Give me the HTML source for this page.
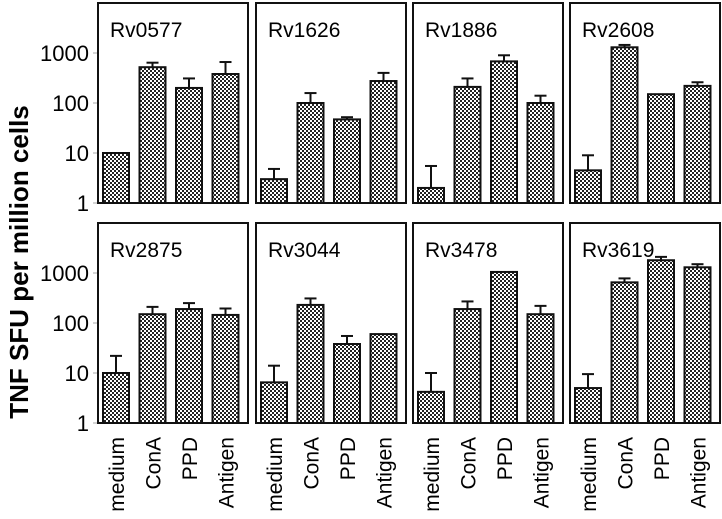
<!DOCTYPE html>
<html><head><meta charset="utf-8"><style>
body{margin:0;background:#fff}
svg{display:block;font-family:"Liberation Sans",Arial,sans-serif}
</style></head><body>
<svg id="chart" width="722" height="519" viewBox="0 0 722 519">
<defs>
<pattern id="chk" width="4" height="4" patternUnits="userSpaceOnUse">
<rect width="4" height="4" fill="#fff"/>
<rect width="2" height="2" fill="#222"/><rect x="2" y="2" width="2" height="2" fill="#222"/>
</pattern>
</defs>
<text transform="translate(28,262) rotate(-90)" text-anchor="middle" font-size="26" font-weight="bold">TNF SFU per million cells</text>
</svg>
<script>
const categories = ["medium","ConA","PPD","Antigen"];
const panels = ["Rv0577","Rv1626","Rv1886","Rv2608","Rv2875","Rv3044","Rv3478","Rv3619"];
const means = [
 [10,520,200,380],[3,100,47,275],[2,210,680,100],[4.5,1300,150,220],
 [10,150,190,145],[6.5,230,38,60],[4.2,190,1050,150],[5,650,1800,1300]];
const errTops = [
 [10,640,310,660],[4.8,158,52,400],[5.5,310,900,140],[9,1450,152,260],
 [22,210,250,195],[14,310,55,60],[10,270,1080,220],[9.5,780,2100,1500]];
const yTicks = [1,10,100,1000];
const yTickLabels = ["1","10","100","1000"];

const NS="http://www.w3.org/2000/svg";
const svg=document.getElementById('chart');
function mk(t,a){const e=document.createElementNS(NS,t);for(const k in a)e.setAttribute(k,a[k]);svg.appendChild(e);return e;}
const colX=[98,256,413,570], rowB=[203,423], W=150, H=200, decade=50;
function yScale(v,row){return rowB[row]-Math.log10(v)*decade;}
function xScale(i,col){return colX[col]+5+i*36.5;}
const bw=26;
for(let row=0;row<2;row++){
  yTicks.forEach((t,k)=>{
    const y=yScale(t,row);
    const tx=mk('text',{x:89,y:y+8,'text-anchor':'end','font-size':22});
    tx.textContent=yTickLabels[k];
    
    
    const tl=mk('line',{x1:93,x2:97,y1:y,y2:y,stroke:'#aaa','stroke-width':1});
    
    
  });
}
panels.forEach((name,p)=>{
  const row=Math.floor(p/4), col=p%4;
  const box=mk('rect',{x:colX[col],y:rowB[row]-H,width:W,height:H,fill:'#fff',stroke:'#111','stroke-width':2});
  
  
  const tt=mk('text',{x:colX[col]+12,y:rowB[row]-H+34,'font-size':21});
  tt.textContent=name;
  
  
  categories.forEach((c,i)=>{
    const x=xScale(i,col), yt=yScale(means[p][i],row), ye=yScale(errTops[p][i],row), cx=x+bw/2;
    if(ye<yt-1){
      const el=mk('line',{x1:cx,x2:cx,y1:ye,y2:yt,stroke:'#111','stroke-width':2});
      
      
      const ec=mk('line',{x1:cx-6,x2:cx+6,y1:ye,y2:ye,stroke:'#111','stroke-width':2});
      
      
    }
    const b=mk('rect',{x:x,y:yt,width:bw,height:rowB[row]-yt,fill:'url(#chk)',stroke:'#111','stroke-width':2});
    
    
    if(row===1){
      const lx=mk('text',{transform:'translate('+(cx+8)+',437) rotate(-90)','text-anchor':'end','font-size':21});
      lx.textContent=c;
      
      
    }
  });
});
</script>
</body></html>
